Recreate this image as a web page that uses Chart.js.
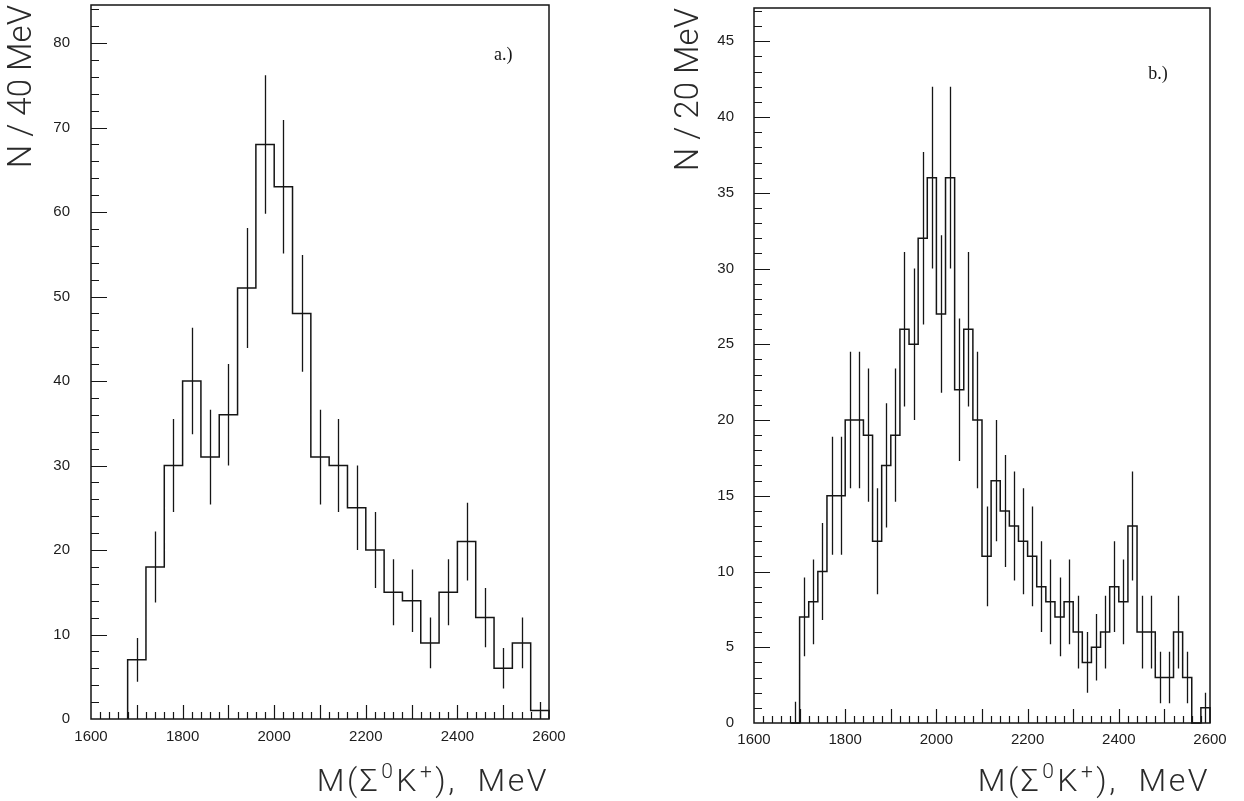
<!DOCTYPE html>
<html>
<head>
<meta charset="utf-8">
<script src="https://cdn.jsdelivr.net/npm/chart.js@4.4.1/dist/chart.umd.min.js"></script>
<style>
  html, body { margin: 0; padding: 0; background: #fff; }
  #wrap { position: relative; width: 1244px; height: 801px; overflow: hidden; }
  .pane { position: absolute; top: 0; height: 801px; }
  #paneA { left: 0; width: 600px; }
  #paneB { left: 620px; width: 624px; }
</style>
</head>
<body>
<div id="wrap">
  <div class="pane" id="paneA"><canvas id="chartA"></canvas></div>
  <div class="pane" id="paneB"><canvas id="chartB"></canvas></div>
</div>
<script>
// a.) 40 MeV bins starting at 1680 MeV
const startA = 1680;
const widthA = 40;
const countsA = [7, 18, 30, 40, 31, 36, 51, 68, 63, 48, 31, 30, 25, 20, 15, 14, 9, 15, 21, 12, 6, 9, 1];
const errorsA = [2.6, 4.2, 5.5, 6.3, 5.6, 6.0, 7.1, 8.2, 7.9, 6.9, 5.6, 5.5, 5.0, 4.5, 3.9, 3.7, 3.0, 3.9, 4.6, 3.5, 2.4, 3.0, 1.0];

// b.) 20 MeV bins starting at 1680 MeV
const startB = 1680;
const widthB = 20;
const countsB = [0, 7, 8, 10, 15, 15, 20, 20, 19, 12, 17, 19, 26, 25, 32, 36, 27, 36, 22, 26, 20, 11, 16, 14, 13, 12, 11, 9, 8, 7, 8, 6, 4, 5, 6, 9, 8, 13, 6, 6, 3, 3, 6, 3, 0, 1];
const errorsB = [1.4, 2.6, 2.8, 3.2, 3.9, 3.9, 4.5, 4.5, 4.4, 3.5, 4.1, 4.4, 5.1, 5.0, 5.7, 6.0, 5.2, 6.0, 4.7, 5.1, 4.5, 3.3, 4.0, 3.7, 3.6, 3.5, 3.3, 3.0, 2.8, 2.6, 2.8, 2.4, 2.0, 2.2, 2.4, 3.0, 2.8, 3.6, 2.4, 2.4, 1.7, 1.7, 2.4, 1.7, 0, 1.0];

// tick labels
const massTicks = [1600, 1800, 2000, 2200, 2400, 2600];
const yTicksA = [0, 10, 20, 30, 40, 50, 60, 70, 80];
const yTicksB = [0, 5, 10, 15, 20, 25, 30, 35, 40, 45];

// x title pieces: [text, superscript?]
const massTitle = [['M(Σ', false], ['0', true], ['K', false], ['+', true], ['),  MeV', false]];

const INK = '#151515';
const TITLE_INK = '#2a2a2a';
const TITLE_FAMILY = 'Roboto, "Open Sans", sans-serif';
const tickFont = { family: '"Liberation Sans", Arial, sans-serif', size: 15 };

// outline of a histogram: rise at the first edge, flat top per bin, drop at the end
function stepPoints(start, width, counts) {
  const pts = [{ x: start, y: 0 }];
  counts.forEach((n, i) => {
    pts.push({ x: start + i * width, y: n });
    pts.push({ x: start + (i + 1) * width, y: n });
  });
  pts.push({ x: start + counts.length * width, y: 0 });
  return pts;
}

// error bars, frame, inward minor/major ticks, panel tag and mass axis title
const histoDecor = {
  id: 'histoDecor',
  afterDatasetsDraw(chart, args, o) {
    const { ctx, chartArea: a, scales: { x, y } } = chart;
    ctx.save();
    ctx.strokeStyle = INK;

    ctx.lineWidth = 1.3;
    ctx.beginPath();
    o.counts.forEach((n, i) => {
      const e = o.errors[i];
      if (!e) return;
      const xc = Math.round(x.getPixelForValue(o.start + (i + 0.5) * o.width)) + 0.5;
      ctx.moveTo(xc, y.getPixelForValue(Math.max(0, n - e)));
      ctx.lineTo(xc, y.getPixelForValue(n + e));
    });
    ctx.stroke();

    ctx.lineWidth = 1.5;
    ctx.strokeRect(a.left, a.top, a.right - a.left, a.bottom - a.top);

    ctx.lineWidth = 1.2;
    ctx.beginPath();
    for (let v = x.min + o.xMinor; v < x.max; v += o.xMinor) {
      const px = Math.round(x.getPixelForValue(v)) + 0.5;
      const len = v % o.xMajor === 0 ? 14 : 7;
      ctx.moveTo(px, a.bottom);
      ctx.lineTo(px, a.bottom - len);
    }
    for (let v = o.yMinor; v < y.max; v += o.yMinor) {
      const py = Math.round(y.getPixelForValue(v)) + 0.5;
      const len = v % o.yMajor === 0 ? 16 : 8;
      ctx.moveTo(a.left, py);
      ctx.lineTo(a.left + len, py);
    }
    ctx.stroke();

    ctx.fillStyle = INK;
    ctx.font = '18px "Liberation Serif", "DejaVu Serif", serif';
    ctx.textAlign = 'center';
    ctx.textBaseline = 'middle';
    ctx.fillText(o.tag, x.getPixelForValue(o.tagAt[0]), y.getPixelForValue(o.tagAt[1]));

    // M(Σ0K+), MeV with raised superscripts, right-aligned to the frame
    const big = '300 32px ' + TITLE_FAMILY;
    const small = '300 21px ' + TITLE_FAMILY;
    ctx.fillStyle = TITLE_INK;
    ctx.textAlign = 'left';
    ctx.textBaseline = 'alphabetic';
    ctx.letterSpacing = '2.5px';
    let total = 0;
    massTitle.forEach(([t, sup]) => { ctx.font = sup ? small : big; total += ctx.measureText(t).width + (sup ? 2 : 0); });
    let cx = a.right - total;
    massTitle.forEach(([t, sup]) => {
      ctx.font = sup ? small : big;
      ctx.fillText(t, cx + (sup ? 1 : 0), sup ? o.titleBase - 13 : o.titleBase);
      cx += ctx.measureText(t).width + (sup ? 2 : 0);
    });
    ctx.restore();
  }
};

function makeChart(id, p) {
  return new Chart(document.getElementById(id), {
    type: 'line',
    data: {
      datasets: [{
        data: stepPoints(p.start, p.width, p.counts),
        borderColor: INK,
        borderWidth: 1.5,
        pointRadius: 0,
        tension: 0,
        fill: false,
        clip: false
      }]
    },
    options: {
      responsive: true,
      maintainAspectRatio: false,
      animation: false,
      events: [],
      layout: { padding: p.padding },
      plugins: {
        legend: { display: false },
        tooltip: { enabled: false },
        histoDecor: {
          start: p.start, width: p.width, counts: p.counts, errors: p.errors,
          xMinor: 20, xMajor: 100, yMinor: p.yMinor, yMajor: p.yMajor,
          tag: p.tag, tagAt: p.tagAt, titleBase: 791
        }
      },
      scales: {
        x: {
          type: 'linear',
          min: 1600,
          max: 2600,
          afterBuildTicks: s => { s.ticks = massTicks.map(v => ({ value: v })); },
          afterFit: s => { s.height = p.xAxisHeight; },
          grid: { display: false, drawTicks: false },
          border: { display: false },
          ticks: {
            autoSkip: false, maxRotation: 0, padding: p.xLabelPad,
            font: tickFont, color: '#1c1c1c',
            callback: v => String(v)
          }
        },
        y: {
          min: 0,
          max: p.yMax,
          afterBuildTicks: s => { s.ticks = p.yTicks.map(v => ({ value: v })); },
          afterFit: s => { s.width = p.yAxisWidth; s.paddingTop = 0; s.paddingBottom = 0; },
          grid: { display: false, drawTicks: false },
          border: { display: false },
          ticks: {
            padding: p.yLabelPad, font: tickFont, color: '#1c1c1c',
            callback: v => String(v)
          },
          title: {
            display: true, text: p.yTitle, align: 'end',
            font: { family: TITLE_FAMILY, size: 33, weight: 300 },
            color: TITLE_INK, padding: { top: p.yTitlePad, bottom: 0 }
          }
        }
      }
    },
    plugins: [histoDecor]
  });
}

makeChart('chartA', {
  start: startA, width: widthA, counts: countsA, errors: errorsA,
  yMax: 84.5, yTicks: yTicksA, yMinor: 2, yMajor: 10,
  yTitle: 'N / 40 MeV', yTitlePad: 3,
  padding: { top: 5, right: 51, bottom: 0, left: 0 },
  yAxisWidth: 91, xAxisHeight: 82, xLabelPad: 9, yLabelPad: 21,
  tag: 'a.)', tagAt: [2500, 78.6]
});

makeChart('chartB', {
  start: startB, width: widthB, counts: countsB, errors: errorsB,
  yMax: 47.2, yTicks: yTicksB, yMinor: 1, yMajor: 5,
  yTitle: 'N / 20 MeV', yTitlePad: 50,
  padding: { top: 8, right: 34, bottom: 0, left: 0 },
  yAxisWidth: 134, xAxisHeight: 78, xLabelPad: 8, yLabelPad: 20,
  tag: 'b.)', tagAt: [2486, 42.8]
});
</script>
</body>
</html>
